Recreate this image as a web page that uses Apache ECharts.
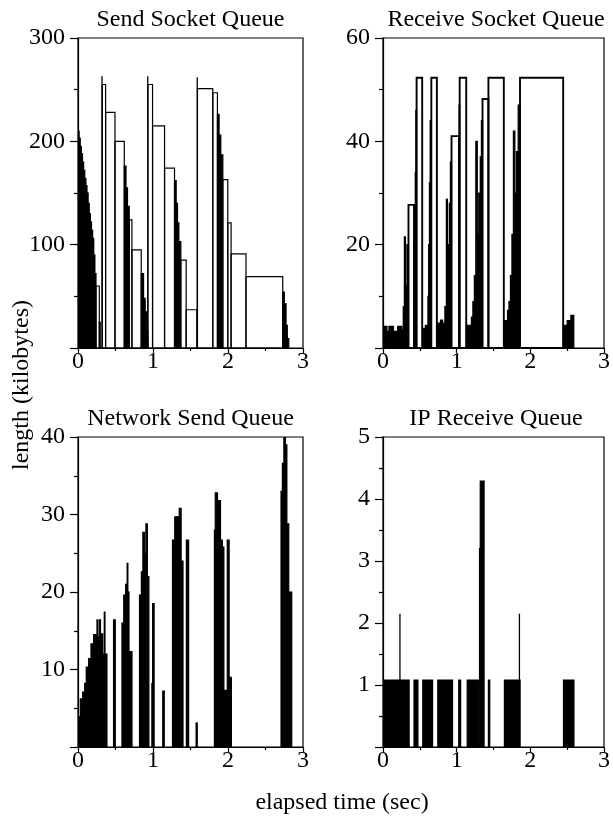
<!DOCTYPE html>
<html><head><meta charset="utf-8">
<script src="https://cdn.jsdelivr.net/npm/echarts@6/dist/echarts.min.js"></script>
<style>html,body{margin:0;padding:0;background:#fff}#c{width:613px;height:821px}</style>
</head><body><div id="c"></div>
<script>
const panelTitles = ['Send Socket Queue', 'Receive Socket Queue', 'Network Send Queue', 'IP Receive Queue'];
const yMax = [300, 60, 40, 5];
const yStep = [100, 20, 10, 1];
const xMax = 3;
const xStep = 1;
const xTitle = 'elapsed time (sec)';
const yTitle = 'length (kilobytes)';

// [start sec, end sec, kilobytes] — outlined intervals
const sendOutline = [
  [0.240,0.284,60],[0.324,0.368,255],[0.368,0.493,228],[0.493,0.617,200],[0.683,0.719,124],[0.719,0.843,95],
  [0.932,0.994,255],[0.994,1.154,215],[1.154,1.287,174],[1.371,1.442,85],[1.442,1.584,37],
  [1.593,1.797,251],[1.797,1.859,247],[1.931,1.997,163],[1.997,2.041,121],[2.041,2.240,91],[2.240,2.730,69]
];
// dense (black) intervals
const sendDense = [
  [0.000,0.015,210],[0.015,0.030,203],[0.030,0.045,195],[0.045,0.060,188],[0.060,0.075,180],[0.075,0.090,172],
  [0.090,0.105,164],[0.105,0.120,157],[0.120,0.135,150],[0.135,0.150,140],[0.150,0.165,130],[0.165,0.180,122],
  [0.180,0.195,114],[0.195,0.210,106],[0.210,0.225,90],[0.225,0.240,72],
  [0.284,0.296,25],
  [0.617,0.640,176],[0.640,0.660,155],[0.660,0.683,137],
  [0.843,0.874,72],[0.874,0.896,48],[0.896,0.918,35],[0.918,0.932,17],
  [1.287,1.309,162],[1.309,1.327,140],[1.327,1.345,121],[1.345,1.371,103],
  [1.859,1.881,226],[1.881,1.904,206],[1.904,1.931,187],
  [2.730,2.751,54],[2.751,2.774,43],[2.774,2.791,22],[2.791,2.810,9]
];
// [sec, kilobytes] single spikes
const sendSpikes = [[0.004,262],[0.320,263],[0.930,263],[1.590,262]];

const recvOutline = [
  [0.346,0.421,27.7],[0.456,0.532,52.3],[0.656,0.731,52.3],[0.930,1.032,41],[1.041,1.130,52.3],
  [1.351,1.431,48.2],[1.431,1.640,52.3],[1.860,2.446,52.3]
];
const recvDense = [
  [0.000,0.020,3.2],[0.020,0.053,4.2],[0.053,0.080,3.2],[0.080,0.142,4.2],[0.142,0.200,3.2],[0.200,0.257,4.2],[0.257,0.275,3.5],
  [0.275,0.290,8],[0.290,0.305,21.5],[0.305,0.325,12],[0.325,0.346,20],
  [0.421,0.430,8],[0.430,0.438,20],[0.438,0.446,34],[0.446,0.456,46],
  [0.545,0.575,3.8],[0.575,0.610,4.4],[0.610,0.620,10],[0.620,0.630,20],[0.630,0.640,32],[0.640,0.656,44],
  [0.731,0.780,4.8],[0.780,0.810,5.4],[0.810,0.840,4.8],[0.840,0.860,8],[0.860,0.875,28.8],[0.875,0.890,14],
  [0.890,0.900,20],[0.900,0.915,28],[0.915,0.930,36],
  [1.032,1.041,47],
  [1.130,1.200,4.4],[1.200,1.220,6],[1.220,1.240,9],[1.240,1.260,14],[1.260,1.280,40],[1.280,1.300,22],
  [1.300,1.320,30],[1.320,1.336,37],[1.336,1.351,44],
  [1.640,1.690,5.3],[1.690,1.710,7.3],[1.710,1.730,9],[1.730,1.750,14],[1.750,1.770,22],[1.770,1.790,42],
  [1.790,1.810,30],[1.810,1.835,38],[1.835,1.860,47],
  [2.446,2.500,4.4],[2.500,2.550,5.3],[2.550,2.590,6.3]
];
const recvSpikes = [];

const netOutline = [];
const netDense = [
  [0.000,0.015,2.2],[0.015,0.031,3.9],[0.031,0.062,6.2],[0.062,0.088,7.1],[0.088,0.110,8.2],[0.110,0.141,10.3],
  [0.141,0.173,11.4],[0.173,0.208,13.3],[0.208,0.253,14.5],[0.253,0.265,16.4],[0.265,0.285,14.2],[0.285,0.300,16.4],
  [0.300,0.330,14.6],[0.330,0.350,12],[0.350,0.360,17.4],[0.360,0.386,12],
  [0.474,0.497,16.4],
  [0.586,0.610,16],[0.610,0.635,19.6],[0.635,0.655,21],[0.655,0.665,23.7],[0.665,0.680,20],[0.680,0.720,12.3],
  [0.820,0.845,19.6],[0.845,0.865,22.6],[0.865,0.885,27.7],[0.885,0.905,25],[0.905,0.925,28.8],[0.925,0.945,22],
  [0.985,0.995,8.2],[0.995,1.015,18.5],
  [1.130,1.150,7.2],
  [1.260,1.290,26.7],[1.290,1.320,29.7],[1.320,1.350,29.7],[1.350,1.375,30.8],[1.375,1.400,24],
  [1.445,1.475,26.7],
  [1.575,1.590,3.1],
  [1.819,1.830,28],[1.830,1.860,32.8],[1.860,1.900,31.8],[1.900,1.925,26.7],[1.925,1.945,25.8],[1.945,1.990,7.3],
  [1.990,2.015,26.7],[2.015,2.045,9],
  [2.707,2.725,33],[2.725,2.745,36.6],[2.745,2.765,40],[2.765,2.785,39],[2.785,2.810,28.8],[2.810,2.850,20]
];
const netSpikes = [];

const ipOutline = [];
const ipDense = [
  [0.000,0.355,1.08],[0.421,0.474,1.08],[0.540,0.673,1.08],[0.744,0.944,1.08],[1.028,1.054,1.08],
  [1.143,1.294,1.08],[1.310,1.320,3.2],[1.320,1.372,4.29],[1.431,1.449,1.08],[1.648,1.861,1.08],[2.450,2.592,1.08]
];
const ipSpikes = [[0.230,2.15],[1.852,2.15]];

const outlines = [sendOutline, recvOutline, netOutline, ipOutline];
const denses = [sendDense, recvDense, netDense, ipDense];
const spikes = [sendSpikes, recvSpikes, netSpikes, ipSpikes];

const FONT = "'Liberation Serif', 'Times New Roman', serif";
const FS = 24;
const outlineWidth = [1.2, 1.9, 1.2, 1.2];
const grids = [
  {left: 78, top: 38, width: 225, height: 310},
  {left: 383, top: 38, width: 226, height: 310},
  {left: 78, top: 437, width: 225, height: 310},
  {left: 383, top: 437, width: 226, height: 310}
];
const lineStyle = {color: '#000', width: 1.2};

function rectRender(filled, lw) {
  return function (params, api) {
    const a = api.coord([api.value(0), api.value(2)]);
    const b = api.coord([api.value(1), 0]);
    return {
      type: 'rect',
      shape: {x: a[0], y: a[1], width: Math.max(b[0] - a[0], 0.5), height: b[1] - a[1]},
      style: {fill: filled ? '#000' : 'none', stroke: '#000', lineWidth: lw}
    };
  };
}
function spikeRender(params, api) {
  const a = api.coord([api.value(0), 0]);
  const b = api.coord([api.value(0), api.value(1)]);
  return {type: 'line', shape: {x1: a[0], y1: a[1], x2: b[0], y2: b[1]}, style: {stroke: '#000', lineWidth: 1.3}};
}

const xAxis = [], yAxis = [], series = [], graphic = [];
for (let i = 0; i < 4; i++) {
  grids[i].show = true;
  grids[i].borderColor = '#000';
  grids[i].borderWidth = 1.2;
  xAxis.push({
    type: 'value', gridIndex: i, min: 0, max: xMax, interval: xStep,
    axisLine: {show: true, onZero: false, lineStyle},
    axisTick: {show: true, length: 5, lineStyle},
    minorTick: {show: true, splitNumber: 2, length: 3, lineStyle},
    splitLine: {show: false}, minorSplitLine: {show: false},
    axisLabel: {fontFamily: FONT, fontSize: FS, color: '#000', margin: 2}
  });
  yAxis.push({
    type: 'value', gridIndex: i, min: 0, max: yMax[i], interval: yStep[i],
    axisLine: {show: true, onZero: false, lineStyle},
    axisTick: {show: true, length: 8, lineStyle},
    minorTick: {show: true, splitNumber: 2, length: 4, lineStyle},
    splitLine: {show: false}, minorSplitLine: {show: false},
    axisLabel: {fontFamily: FONT, fontSize: FS, color: '#000', margin: 13, showMinLabel: false}
  });
  series.push({
    type: 'custom', coordinateSystem: 'cartesian2d', xAxisIndex: i, yAxisIndex: i,
    data: denses[i], encode: {x: [0, 1], y: 2}, renderItem: rectRender(true, 1.2), silent: true, clip: true
  });
  series.push({
    type: 'custom', coordinateSystem: 'cartesian2d', xAxisIndex: i, yAxisIndex: i,
    data: outlines[i], encode: {x: [0, 1], y: 2}, renderItem: rectRender(false, outlineWidth[i]), silent: true, clip: true
  });
  series.push({
    type: 'custom', coordinateSystem: 'cartesian2d', xAxisIndex: i, yAxisIndex: i,
    data: spikes[i], encode: {x: 0, y: 1}, renderItem: spikeRender, silent: true, clip: true
  });
  graphic.push({
    type: 'text', x: grids[i].left + grids[i].width / 2, y: grids[i].top - 18,
    style: {text: panelTitles[i], font: FS + 'px ' + FONT, fill: '#000',
      textAlign: 'center', textVerticalAlign: 'middle', align: 'center', verticalAlign: 'middle'}
  });
}
graphic.push({
  type: 'text', x: 342, y: 803,
  style: {text: xTitle, font: FS + 'px ' + FONT, fill: '#000',
    textAlign: 'center', textVerticalAlign: 'middle', align: 'center', verticalAlign: 'middle'}
});
graphic.push({
  type: 'text', x: 22, y: 385, rotation: Math.PI / 2,
  style: {text: yTitle, font: FS + 'px ' + FONT, fill: '#000',
    textAlign: 'center', textVerticalAlign: 'middle', align: 'center', verticalAlign: 'middle'}
});

const chart = echarts.init(document.getElementById('c'), null, {renderer: 'canvas'});
chart.setOption({animation: false, backgroundColor: '#fff', grid: grids, xAxis, yAxis, series, graphic});
</script>
</body></html>
